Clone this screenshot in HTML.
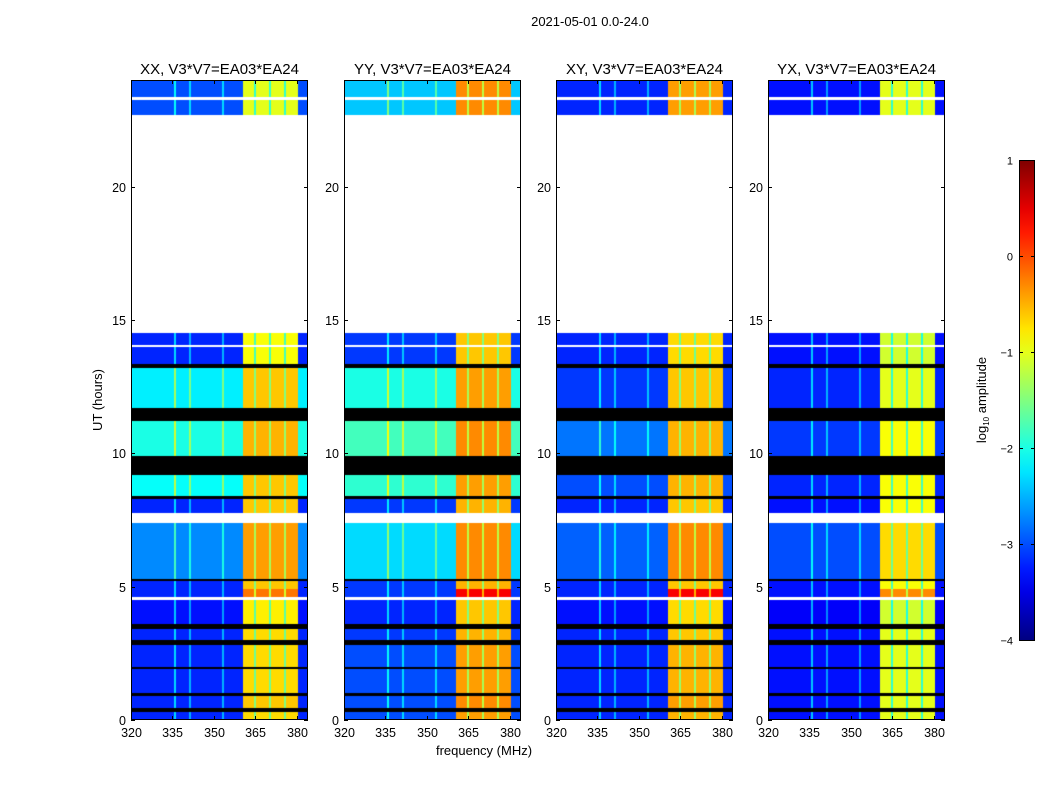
<!DOCTYPE html>
<html><head><meta charset="utf-8">
<style>
body{margin:0;background:#fff;font-family:"Liberation Sans",sans-serif;}
#wrap{position:relative;width:1050px;height:800px;overflow:hidden;}
canvas{position:absolute;}
</style></head>
<body>
<div id="wrap">
<svg id="svg" width="1050" height="800" style="position:absolute;left:0;top:0"></svg>
</div>
<script>
// ---- data ----
const panelTitles = ["XX, V3*V7=EA03*EA24","YY, V3*V7=EA03*EA24","XY, V3*V7=EA03*EA24","YX, V3*V7=EA03*EA24"];
const xTicks = [320,335,350,365,380];
const yTicks = [0,5,10,15,20];
const cbTicks = [-4,-3,-2,-1,0,1];
// time segments (hours): kind 'd' = data, 'k' = flagged black, 'w' = no data
const segStart = [0,0.3,0.45,0.9,1.0,1.9,2.0,2.8,3.0,3.4,3.6,4.5,4.6,4.9,5.2,5.3,7.4,7.75,8.3,8.4,9.2,9.9,11.2,11.7,13.2,13.35,14.0,14.08,14.5,22.7,23.25,23.35];
const segEnd   = [0.3,0.45,0.9,1.0,1.9,2.0,2.8,3.0,3.4,3.6,4.5,4.6,4.9,5.2,5.3,7.4,7.75,8.3,8.4,9.2,9.9,11.2,11.7,13.2,13.35,14.0,14.08,14.5,22.7,23.25,23.35,24];
const segKind  = ['d','k','d','k','d','k','d','k','d','k','d','w','d','d','k','d','w','d','k','d','k','d','k','d','k','d','w','d','w','d','w','d'];
// background (low band) log10 amplitude per panel per segment
const loXX = [-3.2,0,-3.2,0,-3.2,0,-3.2,0,-3.2,0,-3.3,0,-3.2,-3.2,0,-2.7,0,-3.2,0,-2.1,0,-2.0,0,-2.2,0,-3.2,0,-3.2,0,-3.0,0,-3.0];
const loYY = [-3.0,0,-3.0,0,-3.0,0,-3.0,0,-3.1,0,-3.2,0,-3.1,-3.1,0,-2.3,0,-3.1,0,-1.9,0,-1.8,0,-2.0,0,-3.1,0,-3.1,0,-2.4,0,-2.4];
const loXY = [-3.2,0,-3.2,0,-3.2,0,-3.2,0,-3.2,0,-3.3,0,-3.2,-3.2,0,-2.9,0,-3.2,0,-3.0,0,-2.8,0,-3.1,0,-3.2,0,-3.2,0,-3.2,0,-3.2];
const loYX = [-3.3,0,-3.3,0,-3.3,0,-3.3,0,-3.3,0,-3.4,0,-3.3,-3.3,0,-3.0,0,-3.3,0,-3.2,0,-3.1,0,-3.2,0,-3.3,0,-3.3,0,-3.3,0,-3.3];
// high band (360.5-380.4 MHz) level
const hiXX = [-0.7,0,-0.6,0,-0.7,0,-0.7,0,-0.7,0,-0.8,0,-0.2,-0.6,0,-0.4,0,-0.6,0,-0.6,0,-0.5,0,-0.6,0,-0.9,0,-0.9,0,-1.0,0,-1.0];
const hiYY = [-0.4,0,-0.3,0,-0.4,0,-0.4,0,-0.5,0,-0.6,0,0.4,-0.5,0,-0.3,0,-0.5,0,-0.4,0,-0.3,0,-0.4,0,-0.6,0,-0.6,0,-0.3,0,-0.3];
const hiXY = [-0.5,0,-0.4,0,-0.5,0,-0.5,0,-0.6,0,-0.7,0,0.4,-0.6,0,-0.3,0,-0.6,0,-0.5,0,-0.5,0,-0.6,0,-0.7,0,-0.7,0,-0.4,0,-0.4];
const hiYX = [-1.0,0,-1.0,0,-1.0,0,-1.0,0,-1.0,0,-1.1,0,-0.3,-0.9,0,-0.7,0,-0.9,0,-0.9,0,-0.9,0,-1.0,0,-1.1,0,-1.1,0,-1.0,0,-1.0];
const hiBand = [360.5,380.4];
// narrow RFI lines in the low band and sub-band dividers in the high band
const lineFreq = [335.9,341.3,353.3];
const lineOff = [0.9,0.7,0.7];
const divFreq = [364.8,370.2,375.6];
const divOff = [-0.9,-0.9,-0.9];
const loLevels=[loXX,loYY,loXY,loYX], hiLevels=[hiXX,hiYY,hiXY,hiYX];

// ---- layout ----
const panelLeft=[131,344,556,768], PW=177, PT=80, PH=640;
const fMin=320,fMax=384,tMin=0,tMax=24;
const xScale=(f,i)=>panelLeft[i]+(f-fMin)/(fMax-fMin)*PW;
const yScale=t=>PT+PH-(t-tMin)/(tMax-tMin)*PH;
const vMin=-4,vMax=1;
function jet(v){let t=(v-vMin)/(vMax-vMin);t=Math.max(0,Math.min(1,t));
 const c=x=>Math.round(255*Math.max(0,Math.min(1,x)));
 return [c(1.5-Math.abs(4*t-3)),c(1.5-Math.abs(4*t-2)),c(1.5-Math.abs(4*t-1))];}
const halfW=0.25;

const svg=document.getElementById('svg'),wrap=document.getElementById('wrap');
const NS='http://www.w3.org/2000/svg';
function el(tag,attrs,parent){const e=document.createElementNS(NS,tag);for(const k in attrs)e.setAttribute(k,attrs[k]);(parent||svg).appendChild(e);return e;}
function txt(x,y,s,size,anchor,parent){const t=el('text',{x:x,y:y,'font-size':size,'text-anchor':anchor||'middle',fill:'#000','font-family':'Liberation Sans, sans-serif'},parent);t.textContent=s;return t;}

for(let i=0;i<4;i++){
 const cv=document.createElement('canvas');cv.width=PW;cv.height=PH;
 cv.style.left=panelLeft[i]+'px';cv.style.top=PT+'px';
 
 
 wrap.insertBefore(cv,svg);
 const ctx=cv.getContext('2d');const img=ctx.createImageData(PW,PH);
 for(let s=0;s<segStart.length;s++){
  const y0=Math.round(yScale(segEnd[s])-PT),y1=Math.round(yScale(segStart[s])-PT);
  for(let y=Math.max(0,y0);y<Math.min(PH,y1);y++){
   for(let x=0;x<PW;x++){
    let rgb;
    if(segKind[s]==='k')rgb=[0,0,0];
    else if(segKind[s]==='w')rgb=[255,255,255];
    else{const f=fMin+(x+0.5)/PW*(fMax-fMin);
     const inHi=f>=hiBand[0]&&f<hiBand[1];
     let v=inHi?hiLevels[i][s]:loLevels[i][s];
     if(!inHi){lineFreq.forEach((lf,k)=>{if(Math.abs(f-lf)<halfW)v+=lineOff[k];});}
     else{divFreq.forEach((df,k)=>{if(Math.abs(f-df)<halfW+0.1)v+=divOff[k];});}
     rgb=jet(v);}
    const p=(y*PW+x)*4;img.data[p]=rgb[0];img.data[p+1]=rgb[1];img.data[p+2]=rgb[2];img.data[p+3]=255;
   }}
 }
 ctx.putImageData(img,0,0);
 const g=el('g',{});
 const fr=el('rect',{x:panelLeft[i]+0.5,y:PT+0.5,width:PW-1,height:PH-1,fill:'none',stroke:'#000','stroke-width':1},g);
 
 const tt=txt(panelLeft[i]+PW/2,74,panelTitles[i],15,'middle',g);
 
 xTicks.forEach(v=>{const x=Math.round(xScale(v,i))+0.5;
  el('line',{x1:x,x2:x,y1:PT+PH,y2:PT+PH-4,stroke:'#000'},g);el('line',{x1:x,x2:x,y1:PT,y2:PT+4,stroke:'#000'},g);
  const l=txt(x,PT+PH+17,String(v),12.5,'middle',g);});
 yTicks.forEach(v=>{const y=Math.round(yScale(v))+0.5;
  el('line',{x1:panelLeft[i],x2:panelLeft[i]+4,y1:y,y2:y,stroke:'#000'},g);el('line',{x1:panelLeft[i]+PW,x2:panelLeft[i]+PW-4,y1:y,y2:y,stroke:'#000'},g);
  const l=txt(panelLeft[i]-5,y+4.5,String(v),12.5,'end',g);});
}
const st=txt(590,26,'2021-05-01 0.0-24.0',13);
const xl=txt(484,755,'frequency (MHz)',13);
const yl=txt(0,0,'UT (hours)',13);yl.setAttribute('transform','translate(102,400) rotate(-90)');


// colorbar
const CBX=1019,CBY=160,CBW=15,CBH=480;
const defs=el('defs',{});const grad=el('linearGradient',{id:'jetg',x1:0,y1:1,x2:0,y2:0},defs);
for(let k=0;k<=20;k++){const v=vMin+k/20*(vMax-vMin);const c=jet(v);el('stop',{offset:(k/20),'stop-color':'rgb('+c.join(',')+')'},grad);}
const cb=el('rect',{x:CBX+0.5,y:CBY+0.5,width:CBW,height:CBH,fill:'url(#jetg)',stroke:'#000'});

cbTicks.forEach(v=>{const y=Math.round(CBY+CBH-(v-vMin)/(vMax-vMin)*CBH)+0.5;
 el('line',{x1:CBX,x2:CBX+4,y1:y,y2:y,stroke:'#000'});el('line',{x1:CBX+CBW+1,x2:CBX+CBW-3,y1:y,y2:y,stroke:'#000'});
 const l=txt(CBX-6,y+4,(v<0?'\u2212':'')+Math.abs(v),11,'end');});
const cl=el('text',{transform:'translate(986,400) rotate(-90)','text-anchor':'middle','font-size':13,'font-family':'Liberation Sans, sans-serif'});
cl.innerHTML='log<tspan font-size="8" dy="3">10</tspan><tspan dy="-3"> amplitude</tspan>';

</script>
</body></html>
